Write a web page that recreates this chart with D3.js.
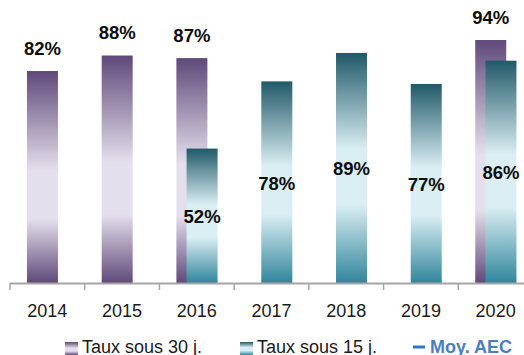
<!DOCTYPE html>
<html>
<head>
<meta charset="utf-8">
<script src="https://cdn.jsdelivr.net/npm/d3@7"></script>
<style>
  html, body { margin: 0; padding: 0; background: #fff; }
  svg { display: block; }
</style>
</head>
<body>
<svg id="chart" width="524" height="355"></svg>
<script>
// Années et taux de traitement
const years = ["2014", "2015", "2016", "2017", "2018", "2019", "2020"];
const taux30 = [0.82, 0.88, 0.87, null, null, null, 0.94];
const taux15 = [null, null, 0.52, 0.78, 0.89, 0.77, 0.86];
const legendLabels = ["Taux sous 30 j.", "Taux sous 15 j.", "Moy. AEC"];

const svg = d3.select("#chart");
const font = "'Liberation Sans', Arial, sans-serif";

const x = d3.scaleBand().domain(years).range([10, 533]).padding(0);
const y = d3.scaleLinear().domain([0, 1]).range([283, 24.5]);
const pct = d3.format(".0%");

// Dégradés des barres
const defs = svg.append("defs");
function grad(id, stops) {
  const g = defs.append("linearGradient").attr("id", id)
    .attr("x1", 0).attr("y1", 0).attr("x2", 0).attr("y2", 1);
  stops.forEach(([o, c]) => g.append("stop").attr("offset", o).attr("stop-color", c));
}
grad("gPurple", [[0, "#5f497a"], [0.47, "#e4dfec"], [0.70, "#e4dfec"], [1, "#5f497a"]]);
grad("gTeal", [[0, "#215968"], [0.42, "#daeef3"], [0.66, "#daeef3"], [1, "#31859c"]]);

const barW = 31;
const cx = d => x(d) + x.bandwidth() / 2;

const d30 = years.map((yr, i) => ({ yr, v: taux30[i] })).filter(d => d.v != null);
const d15 = years.map((yr, i) => ({ yr, v: taux15[i] })).filter(d => d.v != null);

// Barres « sous 30 j. »
svg.append("g").selectAll("rect").data(d30).join("rect")
  .attr("x", d => cx(d.yr) - 20.4)
  .attr("width", barW)
  .attr("y", d => y(d.v))
  .attr("height", d => y(0) - y(d.v))
  .attr("fill", "url(#gPurple)");

// Barres « sous 15 j. »
svg.append("g").selectAll("rect").data(d15).join("rect")
  .attr("x", d => cx(d.yr) - 10.2)
  .attr("width", barW)
  .attr("y", d => y(d.v))
  .attr("height", d => y(0) - y(d.v))
  .attr("fill", "url(#gTeal)");

// Axe des abscisses
const axis = svg.append("g");
axis.append("line")
  .attr("x1", 10).attr("x2", 533)
  .attr("y1", y(0) + 0.5).attr("y2", y(0) + 0.5)
  .attr("stroke", "#a6a6a6").attr("stroke-width", 2);
axis.selectAll("line.tick").data(years).join("line")
  .attr("class", "tick")
  .attr("x1", d => x(d)).attr("x2", d => x(d))
  .attr("y1", y(0)).attr("y2", y(0) + 7)
  .attr("stroke", "#a6a6a6").attr("stroke-width", 1.5);
axis.selectAll("text").data(years).join("text")
  .attr("x", cx).attr("y", 317)
  .attr("text-anchor", "middle")
  .attr("font-family", font).attr("font-size", 18)
  .attr("fill", "#1a1a1a")
  .text(d => d);

// Étiquettes de valeurs
svg.append("g").selectAll("text").data(d30).join("text")
  .attr("x", d => cx(d.yr) - 20.4 + barW / 2)
  .attr("y", d => y(d.v) - 16.5)
  .attr("text-anchor", "middle")
  .attr("font-family", font).attr("font-weight", "bold").attr("font-size", 18.5)
  .attr("fill", "#0d0d0d")
  .text(d => pct(d.v));

svg.append("g").selectAll("text").data(d15).join("text")
  .attr("x", d => cx(d.yr) - 10.2 + barW / 2)
  .attr("y", d => (y(d.v) + y(0)) / 2 + 7.5)
  .attr("text-anchor", "middle")
  .attr("font-family", font).attr("font-weight", "bold").attr("font-size", 18.5)
  .attr("fill", "#0d0d0d")
  .text(d => pct(d.v));

// Légende
const leg = svg.append("g").attr("font-family", font).attr("font-size", 18);
leg.append("rect").attr("x", 65).attr("y", 342).attr("width", 13).attr("height", 13).attr("fill", "url(#gPurple)");
leg.append("text").attr("x", 82).attr("y", 353).attr("fill", "#1a1a1a").text(legendLabels[0]);
leg.append("rect").attr("x", 240).attr("y", 342).attr("width", 13).attr("height", 13).attr("fill", "url(#gTeal)");
leg.append("text").attr("x", 257).attr("y", 353).attr("fill", "#1a1a1a").text(legendLabels[1]);
leg.append("line").attr("x1", 413).attr("x2", 425).attr("y1", 347).attr("y2", 347)
  .attr("stroke", "#2e78c8").attr("stroke-width", 3);
leg.append("text").attr("x", 430).attr("y", 353).attr("fill", "#4a7ebf")
  .attr("font-weight", "bold").text(legendLabels[2]);
</script>
</body>
</html>
